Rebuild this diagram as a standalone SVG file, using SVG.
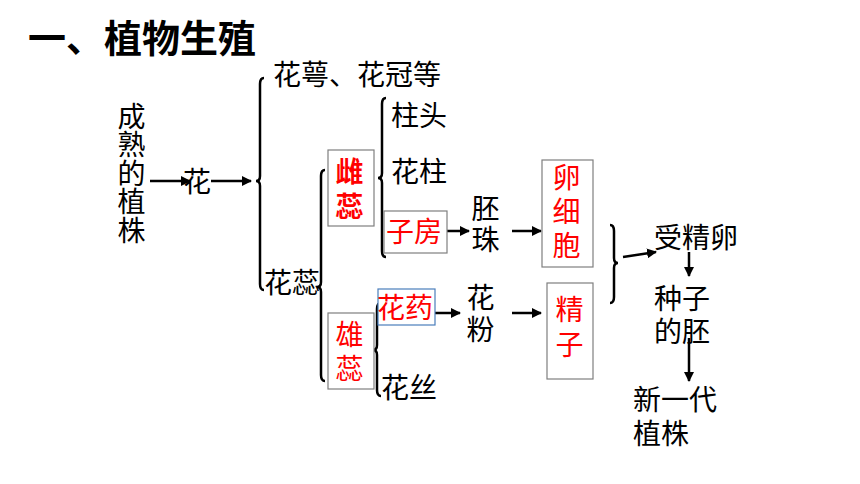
<svg xmlns="http://www.w3.org/2000/svg" width="860" height="484" viewBox="0 0 860 484">
<defs>
<style>
text{font-family:"Liberation Sans","Noto Sans CJK SC",sans-serif;font-size:28px;fill:#000}
.t{font-size:38px;font-weight:bold}
.r{fill:#ff0000}
.b{font-weight:bold}
.v{writing-mode:vertical-rl;glyph-orientation-vertical:0}
.box{fill:#fff;stroke:#7f7f7f;stroke-width:1.2}
.bbox{fill:#fff;stroke:#4a7ebb;stroke-width:1.2}
.br{fill:none;stroke:#000;stroke-width:2.5}
.ln{fill:none;stroke:#000;stroke-width:2.5}
</style>
<marker id="ah" viewBox="0 0 10 10" refX="9" refY="5" markerWidth="4" markerHeight="4" orient="auto">
<path d="M0,0 L10,5 L0,10 z" fill="#000"/>
</marker>
</defs>
<rect width="860" height="484" fill="#fff"/>
<text class="t" x="28" y="52">一、植物生殖</text>

<g id="connectors">
<path class="ln" d="M150,181 L190,181" marker-end="url(#ah)"/>
<path class="ln" d="M211,181 L251,181" marker-end="url(#ah)"/>
<path class="ln" d="M438,231 L469,231" marker-end="url(#ah)"/>
<path class="ln" d="M512,231 L541,231" marker-end="url(#ah)"/>
<path class="ln" d="M430,313 L460,313" marker-end="url(#ah)"/>
<path class="ln" d="M512,313 L541,313" marker-end="url(#ah)"/>
<path class="ln" d="M623,257 L656,252" marker-end="url(#ah)"/>
<path class="ln" d="M689,252 L689,276" marker-end="url(#ah)"/>
<path class="ln" d="M689,338 L689,381" marker-end="url(#ah)"/>
<path class="br" d="M264,78 Q260,78 260,84 L260,176 Q260,181 256,181 Q260,181 260,186 L260,284 Q260,290 264,290"/>
<path class="br" d="M325,170 Q321,170 321,176 L321,282 Q321,287 317,287 Q321,287 321,292 L321,375 Q321,381 325,381"/>
<path class="br" d="M386,98 Q382,98 382,104 L382,173 Q382,178 378,178 Q382,178 382,183 L382,251 Q382,257 386,257"/>
<path class="br" d="M381,303 Q377,303 377,309 L377,345 Q377,350 373,350 Q377,350 377,355 L377,390 Q377,396 381,396"/>
<path class="br" d="M610,225 Q614,225 614,231 L614,258 Q614,263 618,263 Q614,263 614,268 L614,297 Q614,303 610,303"/>
</g>

<g id="plant"><text class="v" x="129" y="102" style="letter-spacing:0.6px">成熟的植株</text></g>
<g id="flower"><text x="183" y="192">花</text></g>
<g id="sepal"><text x="273" y="85">花萼、花冠等</text></g>
<g id="stamen-pistil"><text x="264" y="293">花蕊</text></g>
<g id="pistil"><rect class="box" x="328" y="150" width="46" height="76"/><text class="r b v" x="347" y="157" style="letter-spacing:7px">雌蕊</text></g>
<g id="stamen"><rect class="box" x="328" y="313" width="46" height="76"/><text class="r v" x="347" y="320" style="letter-spacing:6px">雄蕊</text></g>
<g id="stigma"><text x="391" y="126">柱头</text></g>
<g id="style"><text x="391" y="182">花柱</text></g>
<g id="ovary"><rect class="box" x="384" y="211" width="63" height="42"/><text class="r" x="386" y="242">子房</text></g>
<g id="ovule"><text class="v" x="483" y="194" style="letter-spacing:3px">胚珠</text></g>
<g id="egg"><rect class="box" x="542" y="160" width="51" height="107"/><text class="r v" x="564" y="163" style="letter-spacing:6px">卵细胞</text></g>
<g id="anther"><rect class="bbox" x="378" y="289" width="57" height="36"/><text class="r" x="377" y="318">花药</text></g>
<g id="pollen"><text class="v" x="478" y="283" style="letter-spacing:4px">花粉</text></g>
<g id="sperm"><rect class="box" x="547" y="283" width="46" height="96"/><text class="r v" x="567" y="295" style="letter-spacing:7px">精子</text></g>
<g id="filament"><text x="381" y="398">花丝</text></g>
<g id="zygote"><text x="654" y="248">受精卵</text></g>
<g id="embryo"><text x="654" y="309">种子<tspan x="654" dy="33">的胚</tspan></text></g>
<g id="newplant"><text x="633" y="410">新一代<tspan x="633" dy="34">植株</tspan></text></g>
</svg>
